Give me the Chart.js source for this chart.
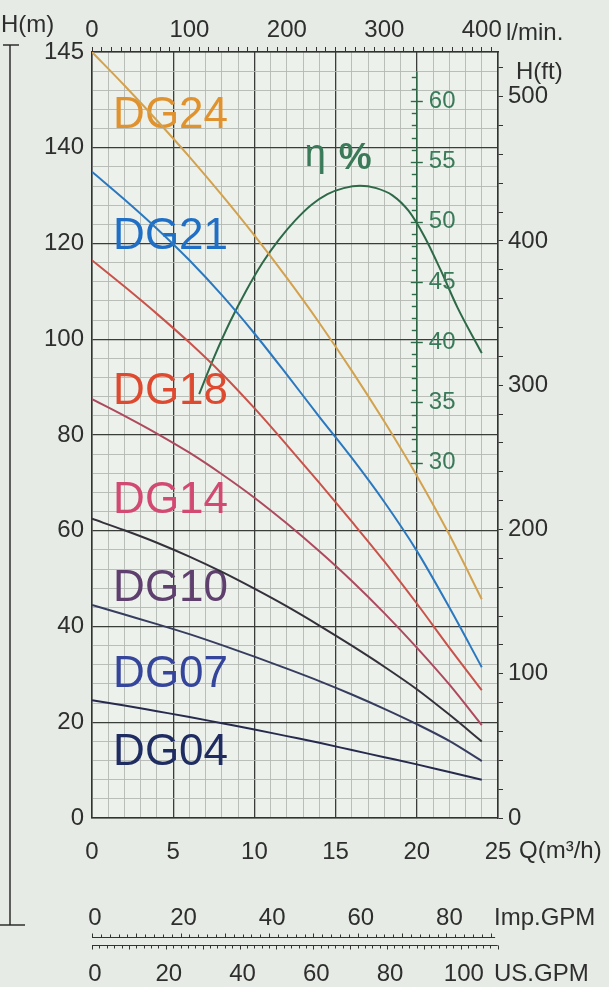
<!DOCTYPE html>
<html><head><meta charset="utf-8">
<script src="https://cdn.jsdelivr.net/npm/chart.js@4.4.1/dist/chart.umd.min.js"></script>
<style>
html,body{margin:0;padding:0;background:#e6ece5;}
#wrap{width:609px;height:987px;position:relative;}
canvas{display:block;}
</style></head>
<body><div id="wrap"><canvas id="c" width="609" height="987" style="width:609px;height:987px"></canvas></div>
<script>
// ---- data ----
const flow = [0, 2, 4, 6, 8, 10, 12, 14, 16, 18, 20, 22, 24];           // Q (m3/h)
const dg24 = [160, 153, 145.7, 138.1, 130.1, 121.7, 112.8, 103.4, 93.4, 82.8, 71.5, 59.2, 45.7];
const dg21 = [135, 129.2, 123.1, 116.5, 109.2, 101.2, 92.6, 83.8, 75.2, 66, 55.8, 44, 31.5];
const dg18 = [116.5, 111, 105.3, 99.3, 92.8, 85.6, 77.9, 70, 61.9, 53.6, 44.8, 35.6, 26.7];
const dg14 = [87.5, 84, 80.3, 76.3, 71.8, 66.9, 61.5, 55.7, 49.5, 42.8, 35.6, 27.9, 19.4];
const dg10 = [62.5, 60.1, 57.5, 54.6, 51.4, 47.9, 44.2, 40.2, 36, 31.6, 26.9, 21.6, 16];
const dg07 = [44.5, 42.5, 40.5, 38.4, 36.1, 33.7, 31.2, 28.6, 25.8, 22.8, 19.6, 16.1, 11.9];
const dg04 = [24.6, 23.5, 22.3, 21.1, 19.8, 18.5, 17.1, 15.7, 14.2, 12.7, 11.2, 9.6, 8];
const etaFlow = [6.6, 7.5, 8.5, 9.5, 10.5, 11.5, 12.5, 13.5, 14.5, 15.5, 16.5, 17.5, 18.5, 19.5, 20.5, 21.5, 22.5, 24];
const etaPct  = [35.7, 38.7, 41.7, 44.3, 46.6, 48.5, 50.1, 51.4, 52.3, 52.8, 53.0, 52.8, 52.2, 50.9, 48.7, 45.9, 42.9, 39.1];
const seriesNames = ['DG24', 'DG21', 'DG18', 'DG14', 'DG10', 'DG07', 'DG04'];
const seriesData = [dg24, dg21, dg18, dg14, dg10, dg07, dg04];
// tick labels
const qLabels = [0, 5, 10, 15, 20, 25];
const hLabels = {0:'0', 20:'20', 40:'40', 60:'60', 80:'80', 100:'100', 120:'120', 140:'140', 160:'145'};
const lminLabels = [0, 100, 200, 300, 400];
const ftLabels = [0, 100, 200, 300, 400, 500];
const etaLabels = [30, 35, 40, 45, 50, 55, 60];
const impLabels = [0, 20, 40, 60, 80];
const usLabels = [0, 20, 40, 60, 80, 100];

// ---- styles ----
const FONT = '"Liberation Sans", Arial, Helvetica, sans-serif';
const lineColors  = ['#d3a24e', '#2a78bf', '#c9524a', '#ad4a5e', '#34313a', '#363d5e', '#262b4e'];
const labelColors = ['#e0922e', '#1f6fc6', '#dd4a30', '#d24a72', '#5e3f6e', '#36459c', '#1f2c62'];
const labelBaseH  = [144.1, 118.9, 86.5, 63.7, 45.3, 27.4, 11.1];
const MAJOR = '#3a3d3a', MINOR = '#b3b9b2', TXT = '#2e2e2e', GREEN = '#2e6a48', GREEN_T = '#3a7a58';

function steps(a, b, s){ const r=[]; for(let v=a; v<=b+1e-9; v+=s) r.push({value: +v.toFixed(6)}); return r; }

const datasets = seriesData.map((arr, i) => ({
  label: seriesNames[i],
  data: flow.map((q, j) => ({x: q, y: arr[j]})),
  borderColor: lineColors[i], borderWidth: 2, pointRadius: 0,
  cubicInterpolationMode: 'monotone', xAxisID: 'x', yAxisID: 'y'
}));
datasets.push({
  label: 'eta',
  data: etaFlow.map((q, j) => ({x: q, y: etaPct[j]})),
  borderColor: GREEN, borderWidth: 2, pointRadius: 0,
  cubicInterpolationMode: 'monotone', xAxisID: 'x', yAxisID: 'eta'
});

const decor = {
  id: 'decor',
  beforeDraw(chart){
    const {ctx, chartArea: a} = chart;
    ctx.save();
    ctx.fillStyle = '#e6ece5'; ctx.fillRect(0, 0, chart.width, chart.height);
    ctx.fillStyle = '#edf1eb'; ctx.fillRect(a.left, a.top, a.right - a.left, a.bottom - a.top);
    ctx.restore();
  },
  beforeDatasetsDraw(chart){
    const {ctx, scales: {x, y}} = chart;
    ctx.save();
    ctx.font = '44px ' + FONT; ctx.textBaseline = 'alphabetic'; ctx.textAlign = 'left';
    seriesNames.forEach((n, i) => {
      ctx.fillStyle = labelColors[i];
      ctx.fillText(n, x.getPixelForValue(1.3), y.getPixelForValue(labelBaseH[i]));
    });
    const e = chart.scales.eta;
    ctx.fillStyle = GREEN_T;
    ctx.font = '38px ' + FONT;
    ctx.fillText('η', x.getPixelForValue(13.1), e.getPixelForValue(54.6));
    ctx.font = 'bold 37px ' + FONT;
    ctx.fillText('%', x.getPixelForValue(15.2), e.getPixelForValue(54.4));
    ctx.restore();
  },
  afterDraw(chart){
    const {ctx, scales: {x, eta}} = chart;
    ctx.save();
    // eta axis
    const xp = x.getPixelForValue(20);
    ctx.strokeStyle = GREEN; ctx.lineWidth = 1.4;
    ctx.beginPath(); ctx.moveTo(xp, eta.getPixelForValue(62.5)); ctx.lineTo(xp, eta.getPixelForValue(29.5)); ctx.stroke();
    for (let v = 30; v <= 62; v++){
      const yp = Math.round(eta.getPixelForValue(v)) + 0.5;
      const mj = v % 5 === 0;
      ctx.beginPath(); ctx.moveTo(xp - (mj ? 6 : 5), yp); ctx.lineTo(xp + (mj ? 6 : 0), yp); ctx.stroke();
    }
    ctx.fillStyle = GREEN_T; ctx.font = '24px ' + FONT; ctx.textBaseline = 'middle'; ctx.textAlign = 'left';
    etaLabels.forEach(v => ctx.fillText(String(v), xp + 12, eta.getPixelForValue(v)));

    // axis titles
    ctx.fillStyle = TXT; ctx.font = '24px ' + FONT; ctx.textBaseline = 'alphabetic';
    ctx.fillText('H(m)', 1, 32);
    ctx.fillText('l/min.', 506, 40);
    ctx.fillText('H(ft)', 516, 79);
    ctx.fillText('Q(m³/h)', 519, 858);
    ctx.fillText('Imp.GPM', 494, 925);
    ctx.fillText('US.GPM', 494, 981);

    // Imp / US GPM scales (converted to m3/h through the x scale)
    const impQ = g => g * 4.54609 * 0.06, usQ = g => g * 3.785411 * 0.06;
    ctx.strokeStyle = '#333'; ctx.lineWidth = 1.2;
    const yImp = 937.5, yUs = 945.5;
    ctx.beginPath(); ctx.moveTo(x.getPixelForValue(0), yImp); ctx.lineTo(x.getPixelForValue(impQ(91)), yImp); ctx.stroke();
    ctx.beginPath(); ctx.moveTo(x.getPixelForValue(0), yUs); ctx.lineTo(x.getPixelForValue(usQ(110)), yUs); ctx.stroke();
    ctx.lineWidth = 1;
    for (let g = 0; g <= 90; g += 2){ const p = Math.round(x.getPixelForValue(impQ(g))) + 0.5; ctx.beginPath(); ctx.moveTo(p, yImp); ctx.lineTo(p, yImp - (g % 10 === 0 ? 4 : 3)); ctx.stroke(); }
    for (let g = 0; g <= 110; g += 2){ const p = Math.round(x.getPixelForValue(usQ(g))) + 0.5; ctx.beginPath(); ctx.moveTo(p, yUs); ctx.lineTo(p, yUs + (g % 10 === 0 ? 4 : 3)); ctx.stroke(); }
    ctx.textAlign = 'center';
    impLabels.forEach(g => ctx.fillText(String(g), x.getPixelForValue(impQ(g)) + 3, 925));
    usLabels.forEach(g => ctx.fillText(String(g), x.getPixelForValue(usQ(g)) + 3, 981));

    // dimension line on the far left
    ctx.strokeStyle = '#222'; ctx.lineWidth = 1.4;
    ctx.beginPath(); ctx.moveTo(10, 45); ctx.lineTo(10, 925); ctx.stroke();
    ctx.beginPath(); ctx.moveTo(3, 45); ctx.lineTo(19, 45); ctx.stroke();
    ctx.beginPath(); ctx.moveTo(0, 925); ctx.lineTo(25, 925); ctx.stroke();
    ctx.restore();
  }
};

Chart.defaults.font.family = FONT;
new Chart(document.getElementById('c'), {
  type: 'line',
  data: { datasets },
  plugins: [decor],
  options: {
    responsive: false, animation: false, devicePixelRatio: 1,
    layout: { padding: 0 },
    plugins: { legend: {display: false}, tooltip: {enabled: false} },
    scales: {
      x: {
        type: 'linear', position: 'bottom', min: 0, max: 25,
        afterBuildTicks: s => { s.ticks = steps(0, 25, 1); },
        afterFit: s => { s.height = 987 - 818; },
        ticks: { autoSkip: false, maxRotation: 0, padding: 20, color: TXT, font: {size: 24},
                 callback: v => qLabels.includes(v) ? String(v) : '' },
        grid: { drawTicks: false, color: c => (c.tick && c.tick.value % 5 === 0) ? MAJOR : MINOR,
                lineWidth: c => (c.tick && c.tick.value % 5 === 0) ? 1.3 : 0.9 },
        border: { color: '#333', width: 1.5 }
      },
      top: {
        type: 'linear', position: 'top', min: 0, max: 25000 / 60,
        afterBuildTicks: s => { s.ticks = steps(0, 410, 10); },
        afterFit: s => { s.height = 52; },
        ticks: { autoSkip: false, maxRotation: 0, padding: 2, color: TXT, font: {size: 24},
                 callback: v => lminLabels.includes(v) ? String(v) : '' },
        grid: { drawOnChartArea: false, tickLength: 5, tickColor: '#333', tickWidth: 1 },
        border: { color: '#333', width: 1.5 }
      },
      y: {
        type: 'linear', position: 'left', min: 0, max: 160,
        afterBuildTicks: s => { s.ticks = steps(0, 160, 4); },
        afterFit: s => { s.width = 92; },
        ticks: { autoSkip: false, padding: 8, color: TXT, font: {size: 24},
                 callback: v => (v in hLabels) ? hLabels[v] : '' },
        grid: { drawTicks: false, color: c => (c.tick && c.tick.value % 20 === 0) ? MAJOR : MINOR,
                lineWidth: c => (c.tick && c.tick.value % 20 === 0) ? 1.3 : 0.9 },
        border: { color: '#333', width: 1.5 }
      },
      yft: {
        type: 'linear', position: 'right', min: 0, max: 531,
        afterBuildTicks: s => { s.ticks = steps(0, 520, 20); },
        afterFit: s => { s.width = 609 - 498; },
        ticks: { autoSkip: false, padding: 5, color: TXT, font: {size: 24},
                 callback: v => ftLabels.includes(v) ? String(v) : '' },
        grid: { drawOnChartArea: false, tickLength: 5, tickColor: '#333' },
        border: { color: '#333', width: 1.5 }
      },
      eta: { type: 'linear', display: false, min: 0.5, max: 64.1 }
    }
  }
});
</script>
</body></html>
